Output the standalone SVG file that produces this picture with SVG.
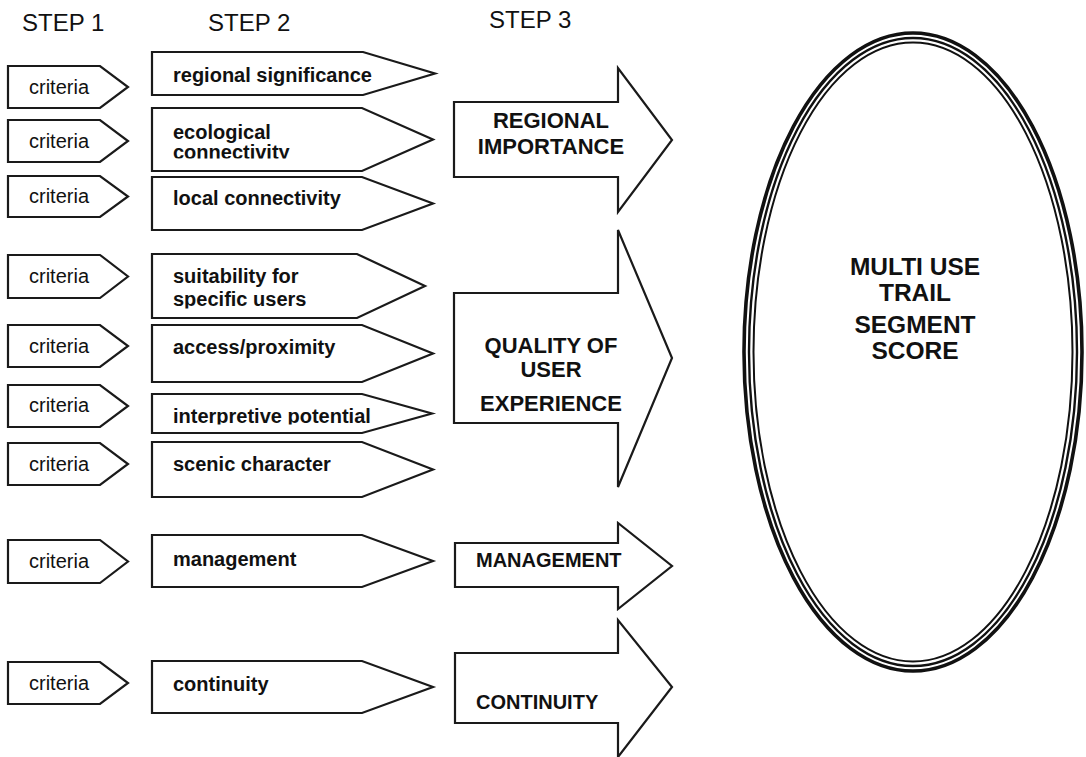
<svg xmlns="http://www.w3.org/2000/svg" width="1086" height="757" viewBox="0 0 1086 757">
  <style>
    .shape { fill: #ffffff; stroke: #1a1a1a; stroke-width: 2.2; stroke-linejoin: miter; }
    .head { font-family: "Liberation Sans", Arial, sans-serif; font-size: 24px; fill: #111; }
    .crit { font-family: "Liberation Sans", Arial, sans-serif; font-size: 20px; fill: #111; }
    .lbl { font-family: "Liberation Sans", Arial, sans-serif; font-size: 20px; font-weight: bold; fill: #111; }
    .big { font-family: "Liberation Sans", Arial, sans-serif; font-size: 22px; font-weight: bold; fill: #111; text-anchor: middle; }
    .big-l { font-family: "Liberation Sans", Arial, sans-serif; font-size: 20px; font-weight: bold; fill: #111; }
    .score { font-family: "Liberation Sans", Arial, sans-serif; font-size: 24.5px; font-weight: bold; fill: #111; text-anchor: middle; }
    .ring { fill: none; stroke: #111; }
  </style>
  <defs>
    <!-- text frames that cut off the lower line of wrapped labels -->
    <clipPath id="clip-eco"><rect x="150" y="100" width="220" height="58.5"/></clipPath>
    <clipPath id="clip-suit"><rect x="150" y="250" width="220" height="58.5"/></clipPath>
    <clipPath id="clip-interp"><rect x="150" y="390" width="230" height="34.5"/></clipPath>
  </defs>

  <rect width="1086" height="757" fill="#ffffff"/>

  <!-- column headings -->
  <g id="headings">
    <text class="head" x="22" y="31">STEP 1</text>
    <text class="head" x="208" y="31">STEP 2</text>
    <text class="head" x="489" y="28">STEP 3</text>
  </g>

  <!-- step 1: criteria tags -->
  <g id="criteria-1"><path class="shape" d="M8 66 H100 L128 87 L100 108 H8 Z"/><text class="crit" x="29" y="94">criteria</text></g>
  <g id="criteria-2"><path class="shape" d="M8 120 H100 L128 141 L100 162 H8 Z"/><text class="crit" x="29" y="148">criteria</text></g>
  <g id="criteria-3"><path class="shape" d="M8 176 H100 L128 196.5 L100 217 H8 Z"/><text class="crit" x="29" y="203">criteria</text></g>
  <g id="criteria-4"><path class="shape" d="M8 255 H100 L128 276.5 L100 298 H8 Z"/><text class="crit" x="29" y="283">criteria</text></g>
  <g id="criteria-5"><path class="shape" d="M8 325 H100 L128 346 L100 367 H8 Z"/><text class="crit" x="29" y="353">criteria</text></g>
  <g id="criteria-6"><path class="shape" d="M8 385 H100 L128 406 L100 427 H8 Z"/><text class="crit" x="29" y="412">criteria</text></g>
  <g id="criteria-7"><path class="shape" d="M8 443 H100 L128 464 L100 485 H8 Z"/><text class="crit" x="29" y="471">criteria</text></g>
  <g id="criteria-8"><path class="shape" d="M8 540 H100 L128 561.5 L100 583 H8 Z"/><text class="crit" x="29" y="568">criteria</text></g>
  <g id="criteria-9"><path class="shape" d="M8 662 H100 L128 683 L100 704 H8 Z"/><text class="crit" x="29" y="690">criteria</text></g>

  <!-- step 2: factor tags -->
  <g id="regional-significance">
    <path class="shape" d="M152 52 H363 L435 73.5 L363 95 H152 Z"/>
    <text class="lbl" x="173" y="82">regional significance</text>
  </g>
  <g id="ecological-connectivity">
    <path class="shape" d="M152 108 H362 L433 139.5 L362 171 H152 Z"/>
    <text class="lbl" clip-path="url(#clip-eco)"><tspan x="173" y="139">ecological</tspan><tspan x="173" y="159">connectivity</tspan></text>
  </g>
  <g id="local-connectivity">
    <path class="shape" d="M152 177 H362 L433 203.5 L362 230 H152 Z"/>
    <text class="lbl" x="173" y="205">local connectivity</text>
  </g>
  <g id="suitability">
    <path class="shape" d="M152 254 H357 L425 286 L357 318 H152 Z"/>
    <text class="lbl" clip-path="url(#clip-suit)"><tspan x="173" y="283">suitability for</tspan><tspan x="173" y="306">specific users</tspan></text>
  </g>
  <g id="access-proximity">
    <path class="shape" d="M152 325 H362 L433 353.5 L362 382 H152 Z"/>
    <text class="lbl" x="173" y="354">access/proximity</text>
  </g>
  <g id="interpretive-potential">
    <path class="shape" d="M152 394 H362 L432 413.5 L362 433 H152 Z"/>
    <text class="lbl" x="173" y="423" clip-path="url(#clip-interp)">interpretive potential</text>
  </g>
  <g id="scenic-character">
    <path class="shape" d="M152 442 H362 L433 469.5 L362 497 H152 Z"/>
    <text class="lbl" x="173" y="471">scenic character</text>
  </g>
  <g id="management-factor">
    <path class="shape" d="M152 535 H362 L433 561 L362 587 H152 Z"/>
    <text class="lbl" x="173" y="566">management</text>
  </g>
  <g id="continuity-factor">
    <path class="shape" d="M152 661 H362 L433 687 L362 713 H152 Z"/>
    <text class="lbl" x="173" y="691">continuity</text>
  </g>

  <!-- step 3: category arrows -->
  <g id="regional-importance">
    <path class="shape" d="M454 102 H618 V68 L672 140 L618 212 V177 H454 Z"/>
    <text class="big" x="551" y="128">REGIONAL</text>
    <text class="big" x="551" y="154">IMPORTANCE</text>
  </g>
  <g id="quality-of-user-experience">
    <path class="shape" d="M454 293 H618 V230 L672 358 L618 487 V423 H454 Z"/>
    <text class="big" x="551" y="353">QUALITY OF</text>
    <text class="big" x="551" y="377">USER</text>
    <text class="big" x="551" y="411">EXPERIENCE</text>
  </g>
  <g id="management">
    <path class="shape" d="M455 543 H618 V523 L672 566 L618 609 V587 H455 Z"/>
    <text class="big-l" x="476" y="567">MANAGEMENT</text>
  </g>
  <g id="continuity">
    <path class="shape" d="M455 653 H618 V620 L672 687 L618 757 V723 H455 Z"/>
    <text class="big-l" x="476" y="709">CONTINUITY</text>
  </g>

  <!-- result: segment score -->
  <g id="segment-score">
    <ellipse class="ring" cx="913" cy="352" rx="169" ry="319" stroke-width="3.6"/>
    <ellipse class="ring" cx="913" cy="352" rx="164" ry="314" stroke-width="2.4"/>
    <ellipse class="ring" cx="913" cy="352" rx="159.5" ry="309.5" stroke-width="2"/>
    <text class="score" x="915" y="275">MULTI USE</text>
    <text class="score" x="915" y="301">TRAIL</text>
    <text class="score" x="915" y="333">SEGMENT</text>
    <text class="score" x="915" y="359">SCORE</text>
  </g>

  <g id="connectors"/>
</svg>
